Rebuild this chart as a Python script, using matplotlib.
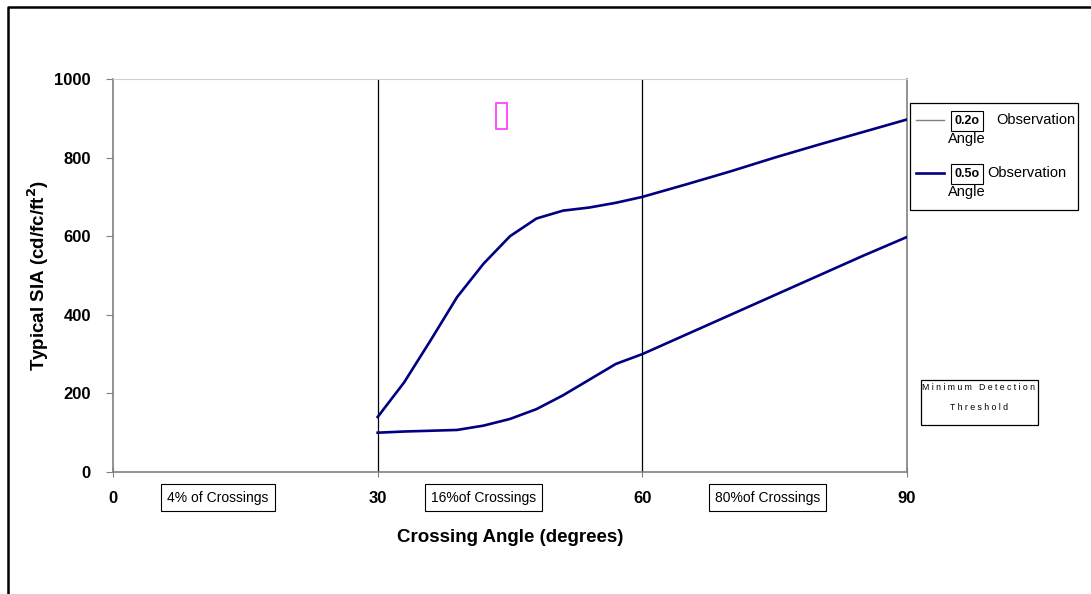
import matplotlib
matplotlib.use("Agg")
import matplotlib.pyplot as plt
from matplotlib.lines import Line2D
from matplotlib.patches import Rectangle

# ----------------------------- Data -----------------------------------------
angles = [30, 33, 36, 39, 42, 45, 48, 51, 54, 57, 60, 65, 70, 75, 80, 85, 90]
sia_upper = [140, 228, 335, 445, 530, 600, 645, 665, 673, 685, 700, 732, 765, 800, 833, 865, 897]
sia_lower = [100, 103, 105, 107, 118, 135, 160, 195, 235, 275, 300, 350, 400, 450, 500, 550, 598]

x_ticks = [0, 30, 60, 90]
y_ticks = [0, 200, 400, 600, 800, 1000]
zone_lines = [30, 60]
zone_labels = ["4% of Crossings", "16%of Crossings", "80%of Crossings"]
zone_centers = [11.9, 42.0, 74.2]  # degrees, where the boxes sit

NAVY = "#000080"
GRAY = "#808080"

plt.rcParams["font.family"] = ["Liberation Sans", "DejaVu Sans"]

W, H = 1091, 594
fig = plt.figure(figsize=(W / 100, H / 100), dpi=100)
ax = fig.add_axes([113 / W, 1 - 472 / H, (907 - 113) / W, (472 - 79) / H])

ax.plot(angles, sia_upper, color=NAVY, lw=1.9, zorder=3)
ax.plot(angles, sia_lower, color=NAVY, lw=1.9, zorder=3)
for z in zone_lines:
    ax.axvline(z, color="black", lw=0.9, zorder=2)

ax.set_xlim(0, 90)
ax.set_ylim(0, 1000)
ax.set_xticks(x_ticks)
ax.set_yticks(y_ticks)
ax.set_xticklabels([str(v) for v in x_ticks], fontsize=12, fontweight="bold")
ax.set_yticklabels([str(v) for v in y_ticks], fontsize=12, fontweight="bold")
ax.tick_params(axis="x", direction="inout", length=7, color=GRAY, pad=10)
ax.tick_params(axis="y", direction="out", length=5, color=GRAY, pad=11)
for s in ["left", "bottom", "right"]:
    ax.spines[s].set_color(GRAY)
    ax.spines[s].set_linewidth(1.2)
ax.spines["top"].set_color("#d0d0d0")

ax.set_xlabel("Crossing Angle (degrees)", fontsize=13.5, fontweight="bold", labelpad=17)
ax.set_ylabel("Typical SIA (cd/fc/ft$^\\mathbf{2}$)", fontsize=13.5, fontweight="bold", labelpad=2)

# zone annotation boxes under the x axis
for c, lab in zip(zone_centers, zone_labels):
    ax.annotate(lab, xy=(c, 0), xycoords=("data", "axes fraction"),
                xytext=(0, -18.5), textcoords="offset points", ha="center", va="center",
                fontsize=10, annotation_clip=False,
                bbox=dict(boxstyle="square,pad=0.45", fc="white", ec="black", lw=0.8))

# tofu box artefact
fig.patches.append(Rectangle((496 / W, 1 - 129 / H), 11 / W, 26 / H, transform=fig.transFigure,
                             fill=False, ec="#ff33ff", lw=1.2))

# hand-made legend
def fx(px):
    return px / W

def fy(py):
    return 1 - py / H

fig.patches.append(Rectangle((fx(910), fy(210)), fx(168), 107 / H, transform=fig.transFigure,
                             fill=False, ec="black", lw=0.9))
for yl, col, lw, tag, obs_x in [(120, GRAY, 1.0, "0.2o", 996), (173, NAVY, 1.9, "0.5o", 987)]:
    fig.lines.append(Line2D([fx(916), fx(944)], [fy(yl), fy(yl)], color=col, lw=lw,
                            transform=fig.transFigure))
    fig.text(fx(967), fy(yl + 1), tag, fontsize=9, fontweight="bold", ha="center", va="center",
             bbox=dict(boxstyle="square,pad=0.3", fc="white", ec="black", lw=0.8))
    fig.text(fx(obs_x), fy(yl), "Observation", fontsize=10.5, ha="left", va="center")
    fig.text(fx(948), fy(yl + 19), "Angle", fontsize=10.5, ha="left", va="center")

# minimum detection threshold box
fig.patches.append(Rectangle((fx(921), fy(425)), fx(117), 45 / H, transform=fig.transFigure,
                             fill=False, ec="black", lw=0.9))
fig.text(fx(979), fy(388), "M i n i m u m   D e t e c t i o n", fontsize=6.3, ha="center", va="center")
fig.text(fx(979), fy(407), "T h r e s h o l d", fontsize=6.3, ha="center", va="center")

# outer frame (top and left only)
fig.lines.append(Line2D([fx(8), fx(8), fx(W)], [0, fy(7), fy(7)], color="black", lw=1.8,
                        transform=fig.transFigure))

fig.savefig("out.png", dpi=100, facecolor="white")
